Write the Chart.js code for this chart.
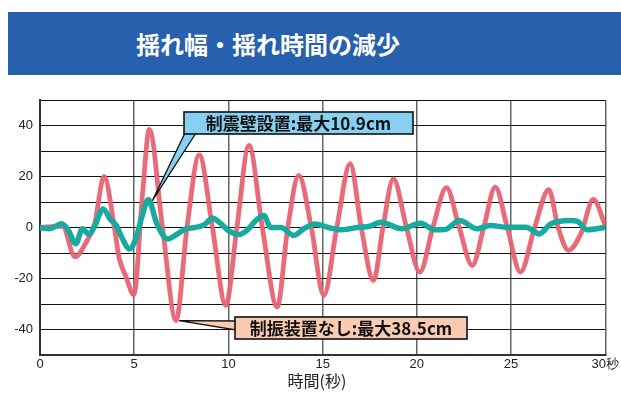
<!DOCTYPE html>
<html>
<head>
<meta charset="utf-8">
<script src="https://cdn.jsdelivr.net/npm/chart.js@4"></script>
<style>
  body { margin: 0; background: #fff; }
  #wrap { position: relative; width: 621px; height: 407px; overflow: hidden; }
  #banner {
    position: absolute; left: 8px; top: 12px; width: 613px; height: 63px;
    background: #2760ac;
  }
  #banner span {
    position: absolute; left: 260px; top: 31px; transform: translate(-50%, -50%);
    color: #fff; font: bold 24px "Noto Sans CJK JP", sans-serif; white-space: nowrap;
  }
  canvas { position: absolute; left: 0; top: 0; }
</style>
</head>
<body>
<div id="wrap">
  <div id="banner"><span>揺れ幅・揺れ時間の減少</span></div>
  <canvas id="shakeChart" width="621" height="407"></canvas>
</div>
<script>
// 制振装置なし (no damper) - time [s] / amplitude [cm]
const noDeviceTime = [0, 0.6, 1.2, 1.85, 2.45, 2.9, 3.4, 3.95, 4.2, 4.55, 4.98, 5.45, 5.8, 6.5, 7.22, 7.8, 8.45, 9.15, 9.86,
  10.45, 11.09, 11.8, 12.59, 13.15, 13.73, 14.4, 15.06, 15.75, 16.46, 17.05, 17.7, 18.2, 18.75, 19.45, 20.16, 20.85,
  21.57, 22.25, 22.94, 23.55, 24.16, 24.8, 25.5, 26.25, 27.0, 27.5, 28.05, 28.7, 29.37, 30];
const noDeviceValues = [0, 0.3, 0.5, -11.5, -5.8, 1.5, 20, 0, -12, -19, -26.3, 14, 38.5, 0, -36.5, 0, 28.5, 0, -30.5,
  0, 32.2, 0, -31.2, 0, 20.4, 0, -26.7, 0, 25, 0, -20.8, 0, 19.1, 0, -17.5, 0,
  15.6, 0, -14.9, 0, 15.8, 0, -17.5, 0, 14.8, 0, -9, -2.5, 11, 0.8];

// 制震壁設置 (damping wall)
const wallTime = [0, 0.5, 1.15, 1.5, 1.9, 2.25, 2.6, 2.9, 3.35, 3.75, 4.05, 4.35, 4.75, 5.1, 5.4, 5.75, 6.2, 6.78, 7.3,
  7.75, 8.2, 8.7, 9.16, 9.6, 10.0, 10.56, 11.0, 11.45, 11.88, 12.24, 12.8, 13.47, 14.0, 14.6, 15.3, 16.0, 16.9, 17.5,
  18.1, 19.2, 20.2, 20.95, 21.5, 22.27, 23.2, 23.9, 24.8, 25.8, 26.5, 27.1, 28.17, 28.5, 29.05, 30];
const wallValues = [0, -0.5, 1.5, -1, -6.4, -0.5, -2.7, 0.5, 7.3, 3, 0.8, -4, -8.4, -4, 4, 10.9, 1.5, -4.5, -2.5,
  -0.5, 0, 1, 3.6, 1.5, -1.2, -2.7, -1, 2.7, 4.7, 0, 0, -3.1, -0.5, 1.4, 0, -0.9, 0.1, 0.5,
  2.1, -0.5, 1.7, -0.9, -0.8, 2.7, -0.5, 0.8, 0.1, 0.1, -2.5, 1.4, 2.7, 2.5, -0.9, 0.1];

const xTicks = [0, 5, 10, 15, 20, 25, 30];
const yLabels = [-40, -20, 0, 20, 40];

const wallLabel = '制震壁設置:最大10.9cm';
const noDeviceLabel = '制振装置なし:最大38.5cm';

function toPoints(xs, ys) {
  return xs.map((x, i) => ({ x, y: ys[i] }));
}

function drawCallout(ctx, box, tip, baseA, baseB, fill, text) {
  ctx.save();
  ctx.lineWidth = 1.3;
  ctx.strokeStyle = '#111';
  ctx.fillStyle = fill;
  ctx.beginPath();
  ctx.moveTo(tip.x, tip.y);
  ctx.lineTo(baseA.x, baseA.y);
  ctx.lineTo(baseB.x, baseB.y);
  ctx.closePath();
  ctx.fill();
  ctx.stroke();
  ctx.fillRect(box.x, box.y, box.w, box.h);
  ctx.lineWidth = 1.6;
  ctx.strokeRect(box.x, box.y, box.w, box.h);
  ctx.fillStyle = '#111';
  ctx.font = 'bold 17px "Noto Sans CJK JP", sans-serif';
  ctx.textAlign = 'center';
  ctx.textBaseline = 'middle';
  ctx.fillText(text, box.x + box.w / 2, box.y + box.h / 2 + 1);
  ctx.restore();
}

const calloutPlugin = {
  id: 'callouts',
  afterDraw(chart) {
    const { ctx, scales } = chart;
    const wi = wallValues.indexOf(Math.max(...wallValues));
    const ni = noDeviceValues.indexOf(Math.min(...noDeviceValues));
    const wallTip = { x: scales.x.getPixelForValue(wallTime[wi]) + 4, y: scales.y.getPixelForValue(wallValues[wi]) + 1 };
    const ndTip = { x: scales.x.getPixelForValue(noDeviceTime[ni]) + 3, y: scales.y.getPixelForValue(noDeviceValues[ni]) };

    drawCallout(ctx, { x: 184, y: 112, w: 229, h: 22 }, wallTip,
      { x: 185, y: 133 }, { x: 196, y: 133 }, '#86d0f2', wallLabel);
    drawCallout(ctx, { x: 235, y: 317, w: 232, h: 22 }, ndTip,
      { x: 236, y: 321 }, { x: 236, y: 330 }, '#f8cbb2', noDeviceLabel);

    // x axis title
    ctx.save();
    ctx.fillStyle = '#222';
    ctx.font = '16px "Noto Sans CJK JP", sans-serif';
    ctx.textAlign = 'center';
    ctx.textBaseline = 'middle';
    ctx.fillText('時間(秒)', 317, 381);
    ctx.restore();
  }
};

new Chart(document.getElementById('shakeChart'), {
  type: 'line',
  data: {
    datasets: [
      {
        label: wallLabel,
        data: toPoints(wallTime, wallValues),
        borderColor: '#17aa9e',
        borderWidth: 5.5,
        pointRadius: 0,
        fill: false,
        cubicInterpolationMode: 'monotone'
      },
      {
        label: noDeviceLabel,
        data: toPoints(noDeviceTime, noDeviceValues),
        borderColor: 'rgba(232, 98, 114, 0.95)',
        borderWidth: 4.8,
        pointRadius: 0,
        fill: false,
        cubicInterpolationMode: 'monotone'
      }
    ]
  },
  options: {
    responsive: false,
    animation: false,
    layout: { padding: { top: 100, right: 13, bottom: 0, left: 0 } },
    plugins: {
      legend: { display: false },
      tooltip: { enabled: false }
    },
    scales: {
      x: {
        type: 'linear',
        min: 0,
        max: 30,
        afterBuildTicks: (axis) => { axis.ticks = xTicks.map(v => ({ value: v })); },
        afterFit: (axis) => { axis.height = 52; },
        ticks: {
          color: '#222',
          font: { size: 13, family: 'Liberation Sans' },
          padding: 2,
          maxRotation: 0,
          callback: (v) => v === 30 ? '30秒' : String(v)
        },
        grid: { color: '#666', lineWidth: 1.5, drawTicks: false },
        border: { color: '#333', width: 2 }
      },
      y: {
        min: -50,
        max: 50,
        afterFit: (axis) => { axis.width = 40; },
        ticks: {
          stepSize: 10,
          autoSkip: false,
          color: '#222',
          font: { size: 13, family: 'Liberation Sans' },
          padding: 7,
          callback: (v) => yLabels.includes(v) ? String(v) : ''
        },
        grid: { color: '#111', lineWidth: 1, drawTicks: false },
        border: { color: '#333', width: 2 }
      }
    }
  },
  plugins: [calloutPlugin]
});
</script>
</body>
</html>
